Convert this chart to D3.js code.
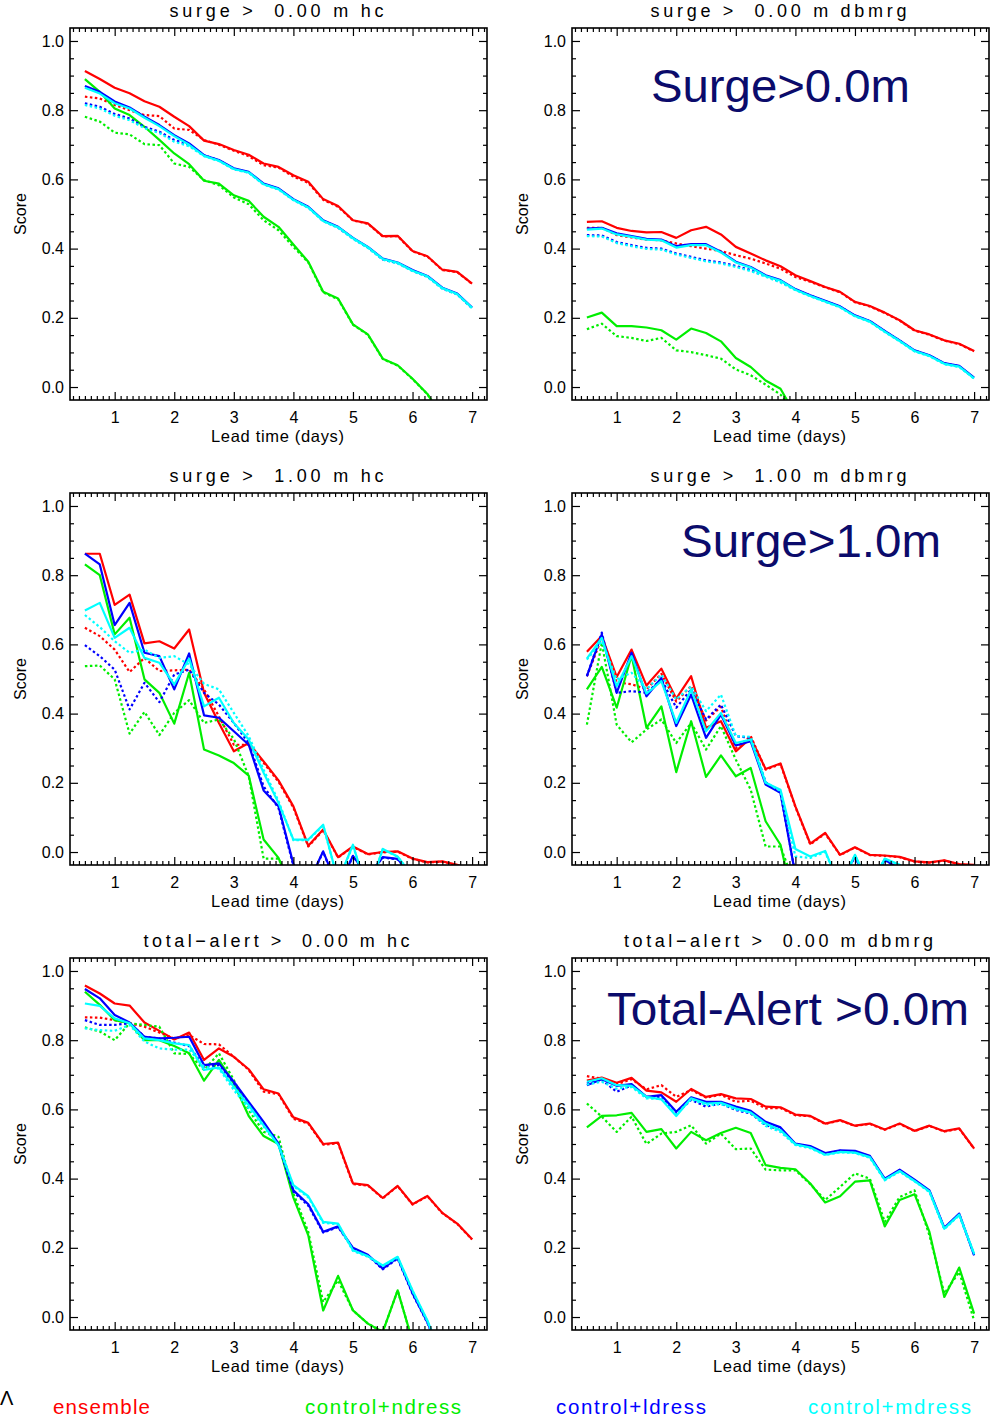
<!DOCTYPE html>
<html>
<head>
<meta charset="utf-8">
<script src="https://cdn.jsdelivr.net/npm/d3@7"></script>
<style>
  body { margin: 0; background: #fff; }
  text { font-family: "Liberation Sans", Arial, sans-serif; }
</style>
</head>
<body>
<script>
// lead times (days) shared by every panel
var leadTime = [0.5,0.75,1,1.25,1.5,1.75,2,2.25,2.5,2.75,3,3.25,3.5,3.75,4,4.25,4.5,4.75,5,5.25,5.5,5.75,6,6.25,6.5,6.75,7];
var xTicks = [1,2,3,4,5,6,7];
var yTicks = [0,0.2,0.4,0.6,0.8,1.0];

var methodNames = ["ensemble","control+ndress","control+ldress","control+mdress"];
var methodColors = ["#ff0000","#00ee00","#0000ff","#00ffff"];

// ---- surge > 0.00 m hc ----
var s0hcEns    = [0.913,0.890,0.865,0.849,0.826,0.810,0.781,0.754,0.712,0.702,0.685,0.671,0.646,0.636,0.612,0.593,0.543,0.523,0.482,0.473,0.436,0.437,0.393,0.378,0.339,0.333,0.299];
var s0hcEnsD   = [0.839,0.834,0.815,0.800,0.786,0.783,0.747,0.743,0.714,0.700,0.683,0.667,0.641,0.634,0.608,0.590,0.541,0.521,0.481,0.472,0.435,0.436,0.392,0.377,0.338,0.332,0.298];
var s0hcNd     = [0.890,0.853,0.805,0.786,0.752,0.714,0.675,0.644,0.596,0.588,0.554,0.538,0.492,0.463,0.412,0.362,0.275,0.256,0.181,0.152,0.082,0.063,0.024,-0.020,-0.090];
var s0hcNdD    = [0.781,0.767,0.735,0.730,0.702,0.699,0.646,0.636,0.598,0.583,0.548,0.528,0.482,0.453,0.405,0.360,0.273,0.254,0.180,0.151,0.081,0.062,0.023,-0.021,-0.090];
var s0hcLd     = [0.870,0.853,0.825,0.808,0.781,0.757,0.728,0.704,0.670,0.656,0.632,0.622,0.588,0.574,0.543,0.521,0.482,0.463,0.431,0.405,0.371,0.360,0.338,0.321,0.287,0.270,0.230];
var s0hcLdD    = [0.820,0.810,0.789,0.776,0.752,0.738,0.714,0.700,0.670,0.655,0.630,0.620,0.586,0.572,0.541,0.519,0.480,0.461,0.429,0.403,0.369,0.358,0.336,0.319,0.285,0.268,0.228];
var s0hcMd     = [0.865,0.848,0.820,0.805,0.778,0.754,0.725,0.700,0.668,0.654,0.630,0.620,0.586,0.572,0.541,0.519,0.480,0.462,0.430,0.404,0.370,0.359,0.336,0.320,0.286,0.269,0.229];
var s0hcMdD    = [0.815,0.805,0.784,0.771,0.748,0.734,0.709,0.696,0.667,0.653,0.629,0.619,0.585,0.571,0.540,0.518,0.479,0.460,0.428,0.402,0.368,0.357,0.335,0.318,0.284,0.267,0.227];

// ---- surge > 0.00 m dbmrg ----
var s0dbEns    = [0.477,0.479,0.460,0.451,0.447,0.448,0.431,0.453,0.463,0.441,0.405,0.386,0.366,0.349,0.323,0.306,0.289,0.275,0.246,0.234,0.215,0.193,0.164,0.152,0.135,0.125,0.104];
var s0dbEnsD   = [0.460,0.460,0.439,0.432,0.426,0.424,0.415,0.407,0.400,0.393,0.381,0.371,0.357,0.342,0.318,0.304,0.288,0.274,0.245,0.233,0.214,0.192,0.163,0.151,0.134,0.124,0.103];
var s0dbNd     = [0.201,0.215,0.176,0.176,0.172,0.164,0.137,0.169,0.156,0.132,0.084,0.058,0.019,-0.005,-0.080];
var s0dbNdD    = [0.167,0.183,0.147,0.142,0.133,0.142,0.106,0.101,0.092,0.082,0.051,0.034,0.007,-0.022,-0.070];
var s0dbLd     = [0.458,0.460,0.444,0.436,0.428,0.426,0.407,0.413,0.413,0.391,0.362,0.347,0.323,0.309,0.283,0.265,0.249,0.233,0.207,0.191,0.162,0.135,0.106,0.092,0.069,0.061,0.027];
var s0dbLdD    = [0.439,0.438,0.419,0.410,0.402,0.400,0.386,0.376,0.366,0.360,0.350,0.338,0.321,0.304,0.282,0.264,0.248,0.232,0.206,0.190,0.161,0.134,0.105,0.091,0.068,0.060,0.026];
var s0dbMd     = [0.455,0.458,0.441,0.434,0.426,0.424,0.403,0.410,0.410,0.389,0.360,0.345,0.321,0.307,0.281,0.263,0.247,0.231,0.205,0.189,0.160,0.133,0.104,0.090,0.067,0.059,0.025];
var s0dbMdD    = [0.436,0.435,0.416,0.407,0.399,0.397,0.383,0.373,0.363,0.357,0.347,0.335,0.319,0.302,0.280,0.262,0.246,0.230,0.204,0.188,0.159,0.132,0.103,0.089,0.066,0.058,0.024];

// ---- surge > 1.00 m hc ----
var s1hcEns    = [0.862,0.862,0.714,0.744,0.603,0.609,0.588,0.643,0.460,0.373,0.291,0.315,0.262,0.207,0.132,0.018,0.065,-0.015,0.016,-0.006,0.000,0.002,-0.019,-0.029,-0.027,-0.037,-0.050];
var s1hcEnsD   = [0.648,0.624,0.585,0.520,0.561,0.523,0.525,0.527,0.470,0.392,0.310,0.310,0.258,0.203,0.128,0.016,0.063,-0.016,0.015,-0.007,-0.001,0.001,-0.020,-0.030,-0.028,-0.038,-0.050];
var s1hcNd     = [0.831,0.800,0.629,0.677,0.499,0.460,0.371,0.518,0.296,0.279,0.257,0.221,0.036,-0.017,-0.120];
var s1hcNdD    = [0.537,0.539,0.499,0.342,0.405,0.338,0.402,0.439,0.373,0.383,0.327,0.219,-0.019,-0.019,-0.100];
var s1hcLd     = [0.862,0.831,0.656,0.720,0.576,0.566,0.470,0.574,0.395,0.388,0.349,0.310,0.178,0.132,-0.035,-0.090,0.002,-0.105,-0.011,-0.070,-0.015,-0.020,-0.070];
var s1hcLdD    = [0.598,0.566,0.527,0.412,0.489,0.433,0.513,0.527,0.460,0.426,0.373,0.315,0.190,0.127,-0.040,-0.090,0.000,-0.105,-0.012,-0.070,-0.016,-0.021,-0.070];
var s1hcMd     = [0.698,0.720,0.619,0.648,0.561,0.547,0.484,0.559,0.421,0.446,0.373,0.325,0.229,0.142,0.036,0.036,0.079,-0.084,0.021,-0.120,0.009,-0.013,-0.070];
var s1hcMdD    = [0.685,0.650,0.609,0.576,0.585,0.561,0.566,0.542,0.486,0.470,0.402,0.335,0.238,0.147,0.034,0.034,0.077,-0.084,0.019,-0.120,0.008,-0.014,-0.070];

// ---- surge > 1.00 m dbmrg ----
var s1dbEns    = [0.579,0.624,0.506,0.585,0.481,0.530,0.443,0.508,0.359,0.378,0.291,0.330,0.240,0.256,0.132,0.024,0.055,-0.008,0.014,-0.008,-0.010,-0.014,-0.027,-0.030,-0.024,-0.035,-0.037];
var s1dbEnsD   = [0.508,0.619,0.490,0.485,0.470,0.515,0.435,0.480,0.380,0.420,0.300,0.335,0.238,0.254,0.130,0.022,0.053,-0.009,0.013,-0.009,-0.011,-0.015,-0.028,-0.031,-0.025,-0.036,-0.038];
var s1dbNd     = [0.470,0.535,0.417,0.568,0.359,0.421,0.231,0.378,0.217,0.279,0.219,0.243,0.089,0.021,-0.170];
var s1dbNdD    = [0.368,0.605,0.368,0.317,0.354,0.383,0.315,0.373,0.296,0.364,0.267,0.180,0.016,0.016,-0.100];
var s1dbLd     = [0.508,0.629,0.460,0.576,0.450,0.503,0.364,0.455,0.330,0.397,0.308,0.320,0.195,0.171,-0.067,-0.150,-0.120,-0.090,-0.013,-0.100,-0.022,-0.050];
var s1dbLdD    = [0.508,0.634,0.460,0.465,0.460,0.499,0.417,0.470,0.383,0.426,0.335,0.330,0.202,0.171,-0.065,-0.150,-0.120,-0.090,-0.014,-0.100,-0.023,-0.050];
var s1dbMd     = [0.559,0.619,0.479,0.566,0.458,0.494,0.373,0.470,0.349,0.402,0.315,0.325,0.200,0.180,0.009,-0.013,0.003,-0.100,-0.008,-0.100,-0.019,-0.037,-0.080];
var s1dbMdD    = [0.556,0.609,0.499,0.518,0.470,0.513,0.441,0.479,0.407,0.455,0.335,0.333,0.202,0.176,-0.013,-0.017,0.000,-0.100,-0.009,-0.100,-0.020,-0.038,-0.080];

// ---- total-alert > 0.00 m hc ----
var t0hcEns    = [0.958,0.935,0.906,0.900,0.851,0.827,0.802,0.822,0.743,0.776,0.752,0.716,0.658,0.646,0.577,0.561,0.500,0.504,0.386,0.381,0.344,0.379,0.326,0.350,0.301,0.270,0.225];
var t0hcEnsD   = [0.866,0.865,0.858,0.849,0.839,0.822,0.805,0.815,0.789,0.788,0.752,0.714,0.651,0.644,0.573,0.559,0.498,0.502,0.384,0.380,0.343,0.378,0.325,0.349,0.300,0.269,0.224];
var t0hcNd     = [0.940,0.902,0.858,0.849,0.800,0.800,0.783,0.762,0.683,0.743,0.675,0.581,0.523,0.500,0.345,0.236,0.019,0.119,0.019,-0.019,-0.043,0.077,-0.070];
var t0hcNdD    = [0.837,0.825,0.800,0.849,0.844,0.839,0.762,0.760,0.714,0.762,0.685,0.598,0.535,0.521,0.357,0.246,0.043,0.106,0.019,-0.019,-0.043,0.077,-0.070];
var t0hcLd     = [0.948,0.921,0.873,0.851,0.810,0.805,0.807,0.810,0.728,0.733,0.680,0.622,0.564,0.501,0.366,0.326,0.246,0.262,0.200,0.180,0.140,0.171,0.069,-0.015,-0.120];
var t0hcLdD    = [0.858,0.844,0.844,0.849,0.810,0.805,0.793,0.783,0.723,0.728,0.675,0.618,0.560,0.498,0.362,0.322,0.244,0.260,0.198,0.178,0.138,0.169,0.067,-0.017,-0.120];
var t0hcMd     = [0.906,0.899,0.863,0.849,0.805,0.800,0.791,0.786,0.714,0.721,0.665,0.612,0.554,0.497,0.381,0.349,0.275,0.270,0.193,0.176,0.149,0.174,0.077,-0.010,-0.120];
var t0hcMdD    = [0.834,0.829,0.827,0.844,0.796,0.776,0.773,0.773,0.723,0.718,0.656,0.603,0.550,0.495,0.378,0.346,0.272,0.268,0.191,0.174,0.147,0.172,0.075,-0.012,-0.120];

// ---- total-alert > 0.00 m dbmrg ----
var t0dbEns    = [0.683,0.692,0.677,0.691,0.654,0.649,0.622,0.659,0.636,0.644,0.632,0.630,0.608,0.606,0.585,0.581,0.559,0.569,0.553,0.559,0.542,0.559,0.538,0.553,0.537,0.545,0.487];
var t0dbEnsD   = [0.696,0.689,0.673,0.687,0.658,0.670,0.636,0.656,0.634,0.642,0.622,0.625,0.603,0.604,0.583,0.580,0.558,0.568,0.552,0.558,0.541,0.558,0.537,0.552,0.536,0.544,0.486];
var t0dbNd     = [0.548,0.581,0.583,0.590,0.535,0.543,0.487,0.535,0.511,0.532,0.547,0.532,0.439,0.431,0.427,0.386,0.331,0.349,0.391,0.395,0.262,0.338,0.355,0.246,0.058,0.143,0.010];
var t0dbNdD    = [0.617,0.579,0.535,0.579,0.500,0.530,0.535,0.554,0.501,0.530,0.485,0.487,0.426,0.424,0.424,0.384,0.338,0.376,0.415,0.400,0.275,0.347,0.366,0.236,0.068,0.130,-0.010];
var t0dbLd     = [0.670,0.687,0.668,0.673,0.636,0.641,0.593,0.635,0.622,0.622,0.608,0.596,0.564,0.548,0.501,0.494,0.474,0.482,0.480,0.466,0.400,0.426,0.397,0.366,0.258,0.299,0.178];
var t0dbLdD    = [0.675,0.685,0.651,0.670,0.636,0.636,0.588,0.627,0.608,0.617,0.598,0.588,0.555,0.540,0.500,0.492,0.472,0.480,0.478,0.464,0.398,0.424,0.395,0.364,0.256,0.297,0.180];
var t0dbMd     = [0.680,0.690,0.670,0.668,0.636,0.629,0.581,0.632,0.617,0.619,0.603,0.591,0.559,0.540,0.499,0.490,0.469,0.477,0.475,0.462,0.397,0.422,0.393,0.363,0.255,0.296,0.183];
var t0dbMdD    = [0.672,0.680,0.660,0.665,0.632,0.630,0.585,0.630,0.612,0.615,0.600,0.590,0.552,0.535,0.497,0.488,0.468,0.476,0.474,0.460,0.395,0.420,0.392,0.361,0.254,0.294,0.181];

var panels = [
  {title: "surge >  0.00 m hc",          tlen: 214, col: 0, row: 0, note: null,
   solid: [s0hcEns, s0hcNd, s0hcLd, s0hcMd], dotted: [s0hcEnsD, s0hcNdD, s0hcLdD, s0hcMdD]},
  {title: "surge >  0.00 m dbmrg",       tlen: 256, col: 1, row: 0, note: "Surge>0.0m",
   nx: 79, ny: 74, nlen: 259,
   solid: [s0dbEns, s0dbNd, s0dbLd, s0dbMd], dotted: [s0dbEnsD, s0dbNdD, s0dbLdD, s0dbMdD]},
  {title: "surge >  1.00 m hc",          tlen: 214, col: 0, row: 1, note: null,
   solid: [s1hcEns, s1hcNd, s1hcLd, s1hcMd], dotted: [s1hcEnsD, s1hcNdD, s1hcLdD, s1hcMdD]},
  {title: "surge >  1.00 m dbmrg",       tlen: 256, col: 1, row: 1, note: "Surge>1.0m",
   nx: 109, ny: 64, nlen: 260,
   solid: [s1dbEns, s1dbNd, s1dbLd, s1dbMd], dotted: [s1dbEnsD, s1dbNdD, s1dbLdD, s1dbMdD]},
  {title: "total\u2212alert >  0.00 m hc",    tlen: 266, col: 0, row: 2, note: null,
   solid: [t0hcEns, t0hcNd, t0hcLd, t0hcMd], dotted: [t0hcEnsD, t0hcNdD, t0hcLdD, t0hcMdD]},
  {title: "total\u2212alert >  0.00 m dbmrg", tlen: 309, col: 1, row: 2, note: "Total-Alert >0.0m",
   nx: 35, ny: 67, nlen: 362,
   solid: [t0dbEns, t0dbNd, t0dbLd, t0dbMd], dotted: [t0dbEnsD, t0dbNdD, t0dbLdD, t0dbMdD]}
];

var colLeft = [70, 572],
    rowTop = [28, 493, 958],
    boxW = 417,
    boxH = 372;

var svg = d3.select("body").append("svg")
  .attr("width", 992)
  .attr("height", 1417);

var x = d3.scaleLinear().domain([0.25, 7.25]).range([0, boxW]);
var y = d3.scaleLinear().domain([-0.0375, 1.0375]).range([boxH, 0]);

var xMinor = d3.range(3, 73).map(function(i){ return i / 10; }).filter(function(v){ return v % 1 !== 0; });
var yMinor = d3.range(0, 21).filter(function(i){ return i % 4 !== 0; }).map(function(i){ return i * 0.05; });

var line = d3.line()
  .defined(function(d){ return d[1] != null; })
  .x(function(d){ return x(d[0]); })
  .y(function(d){ return y(d[1]); });

function styleAxis(sel) {
  sel.select(".domain").remove();
  sel.selectAll(".tick line").attr("stroke", "#000").attr("stroke-width", 1.2);
  sel.selectAll(".tick text")
    .attr("fill", "#000")
    .style("font-family", "'Liberation Sans', Arial, sans-serif")
    .style("font-size", "16px");
}

panels.forEach(function(p, pi) {
  var g = svg.append("g")
    .attr("transform", "translate(" + colLeft[p.col] + "," + rowTop[p.row] + ")");

  g.append("clipPath").attr("id", "clip" + pi)
    .append("rect").attr("width", boxW).attr("height", boxH);

  var plot = g.append("g").attr("clip-path", "url(#clip" + pi + ")");

  // lines: each method drawn solid then dotted
  methodNames.forEach(function(m, mi) {
    [p.solid[mi], p.dotted[mi]].forEach(function(vals, k) {
      var pts = vals.map(function(v, i){ return [leadTime[i], v]; });
      plot.append("path")
        .datum(pts)
        .attr("d", line)
        .attr("fill", "none")
        .attr("stroke", methodColors[mi])
        .attr("stroke-width", 2.2)
        .attr("stroke-linejoin", "round")
        .attr("stroke-dasharray", k === 1 ? "2.5,2.5" : null);
    });
  });

  // axes, ticks pointing inward on all four sides
  g.append("g").attr("transform", "translate(0," + boxH + ")")
    .call(d3.axisBottom(x).tickValues(xTicks).tickSize(-8).tickPadding(12).tickFormat(d3.format("d")))
    .call(styleAxis);
  g.append("g").attr("transform", "translate(0," + boxH + ")")
    .call(d3.axisBottom(x).tickValues(xMinor).tickSize(-4).tickFormat(""))
    .call(styleAxis);
  g.append("g")
    .call(d3.axisTop(x).tickValues(xTicks).tickSize(-8).tickFormat(""))
    .call(styleAxis);
  g.append("g")
    .call(d3.axisTop(x).tickValues(xMinor).tickSize(-4).tickFormat(""))
    .call(styleAxis);
  g.append("g")
    .call(d3.axisLeft(y).tickValues(yTicks).tickSize(-8).tickPadding(6).tickFormat(d3.format(".1f")))
    .call(styleAxis);
  g.append("g")
    .call(d3.axisLeft(y).tickValues(yMinor).tickSize(-4).tickFormat(""))
    .call(styleAxis);
  g.append("g").attr("transform", "translate(" + boxW + ",0)")
    .call(d3.axisRight(y).tickValues(yTicks).tickSize(-8).tickFormat(""))
    .call(styleAxis);
  g.append("g").attr("transform", "translate(" + boxW + ",0)")
    .call(d3.axisRight(y).tickValues(yMinor).tickSize(-4).tickFormat(""))
    .call(styleAxis);

  g.append("rect")
    .attr("width", boxW).attr("height", boxH)
    .attr("fill", "none").attr("stroke", "#000").attr("stroke-width", 1.6);

  // titles and axis labels
  g.append("text")
    .attr("x", boxW / 2 - 2).attr("y", -11)
    .attr("text-anchor", "middle")
    .attr("textLength", p.tlen).attr("lengthAdjust", "spacing")
    .style("white-space", "pre")
    .style("font-size", "18px")
    .text(p.title);

  g.append("text")
    .attr("x", boxW / 2 - 1).attr("y", boxH + 42)
    .attr("text-anchor", "middle")
    .attr("textLength", 133).attr("lengthAdjust", "spacing")
    .style("font-size", "16.5px")
    .text("Lead time (days)");

  g.append("text")
    .attr("transform", "translate(-44," + (boxH / 2) + ") rotate(-90)")
    .attr("text-anchor", "middle")
    .attr("textLength", 42).attr("lengthAdjust", "spacing")
    .style("font-size", "16px")
    .text("Score");

  if (p.note) {
    g.append("text")
      .attr("x", p.nx).attr("y", p.ny)
      .attr("textLength", p.nlen).attr("lengthAdjust", "spacingAndGlyphs")
      .attr("fill", "#0b0b6b")
      .style("font-size", "47px")
      .text(p.note);
  }
});

// legend along the bottom
var legendX = [53, 305, 556, 808],
    legendLen = [97, 156, 150, 163];
svg.selectAll(".legend")
  .data(methodNames)
  .enter().append("text")
  .attr("class", "legend")
  .attr("x", function(d, i){ return legendX[i]; })
  .attr("y", 1414)
  .attr("textLength", function(d, i){ return legendLen[i]; })
  .attr("lengthAdjust", "spacing")
  .attr("fill", function(d, i){ return methodColors[i]; })
  .style("font-size", "20.5px")
  .text(function(d){ return d; });

svg.append("text")
  .attr("x", 0).attr("y", 1405)
  .attr("fill", "#000")
  .style("font-size", "20px")
  .text("\u039b");
</script>
</body>
</html>
